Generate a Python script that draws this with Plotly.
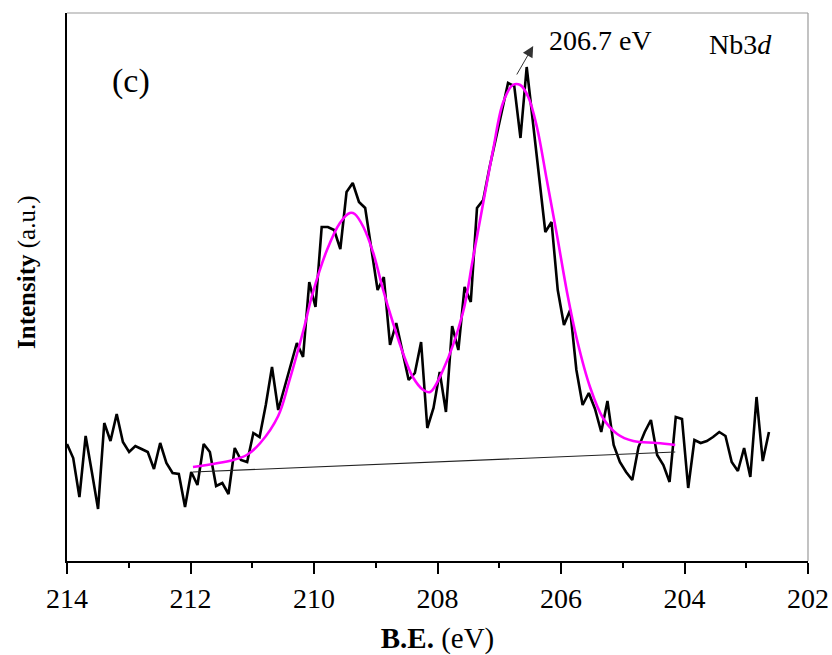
import plotly.graph_objects as go

# ---- data ----
be_start = 214.0      # first binding energy of the scan (eV)
be_step = 0.1006      # scan step (eV)
intensity = [
    117, 103, 64, 125, 89, 52, 138, 120, 147, 119,
    109, 115, 112, 109, 92, 118, 98, 88, 87, 54,
    89, 76, 117, 109, 75, 78, 67, 113, 101, 99,
    128, 124, 156, 194, 151, 173, 195, 218, 204, 279,
    254, 334, 334, 331, 312, 369, 378, 359, 353, 314,
    271, 284, 216, 238, 210, 181, 188, 219, 133, 153,
    189, 149, 235, 211, 274, 259, 353, 361, 393, 421,
    451, 478, 475, 423, 494, 437, 380, 329, 339, 271,
    236, 251, 191, 156, 168, 152, 129, 160, 116, 99,
    89, 81, 114, 129, 141, 106, 96, 79, 144, 142,
    73, 121, 118, 120, 124, 129, 125, 99, 90, 113,
    84, 164, 100, 129,
]
be = [round(be_start - be_step * i, 4) for i in range(len(intensity))]

fit_be = [211.96, 211.31, 211.09, 210.87, 210.58, 210.40, 210.17, 210.02, 209.79,
          209.58, 209.42, 209.34, 209.20, 209.04, 208.88, 208.72, 208.56, 208.40,
          208.23, 208.12, 207.91, 207.59, 207.43, 207.26, 207.10, 206.94, 206.78,
          206.66, 206.53, 206.39, 206.23, 206.06, 205.90, 205.74, 205.53, 205.32,
          205.09, 204.83, 204.45, 204.15]
fit_int = [94, 101, 106, 118, 145, 180, 231, 268, 311,
           338, 348, 347, 334, 308, 271, 238, 208, 184,
           171, 169, 191, 248, 301, 358, 411, 458, 476,
           476, 464, 434, 381, 324, 268, 221, 174, 143,
           127, 120, 118, 116]

bg_be = [211.96, 204.15]
bg_int = [89, 109]

peak_label = "206.7 eV"
x_ticks = [214, 212, 210, 208, 206, 204, 202]

FONT = "Liberation Serif, Times New Roman, serif"

fig = go.Figure()
fig.add_trace(go.Scatter(x=be, y=intensity, mode="lines",
                         line=dict(color="black", width=2.6), hoverinfo="skip"))
fig.add_trace(go.Scatter(x=bg_be, y=bg_int, mode="lines",
                         line=dict(color="#222222", width=1.1), hoverinfo="skip"))
fig.add_trace(go.Scatter(x=fit_be, y=fit_int, mode="lines", line_shape="spline",
                         line=dict(color="#FF00FF", width=2.6), hoverinfo="skip"))

fig.update_layout(
    width=832, height=655,
    margin=dict(l=67, r=24, t=13, b=94),
    paper_bgcolor="white", plot_bgcolor="white",
    showlegend=False,
    font=dict(family=FONT, color="black", size=28),
    xaxis=dict(
        range=[214, 202], autorange=False, automargin=False,
        tickvals=x_ticks, ticktext=[str(t) for t in x_ticks],
        ticks="outside", ticklen=11, tickwidth=2, tickcolor="black",
        minor=dict(dtick=1, ticks="outside", ticklen=5, tickwidth=2, tickcolor="black"),
        showline=True, linecolor="black", linewidth=2,
        showgrid=False, zeroline=False,
        tickfont=dict(family=FONT, size=28),
        title=dict(text="<b>B.E.</b> (eV)", font=dict(family=FONT, size=29), standoff=18),
    ),
    yaxis=dict(
        range=[0, 548], autorange=False, automargin=False,
        showticklabels=False, ticks="",
        showline=True, linecolor="black", linewidth=2,
        showgrid=False, zeroline=False,
    ),
    shapes=[
        dict(type="line", xref="paper", yref="paper", x0=0, x1=1, y0=1, y1=1,
             line=dict(color="#9a9a9a", width=1.2)),
        dict(type="line", xref="paper", yref="paper", x0=1, x1=1, y0=0, y1=1,
             line=dict(color="#9a9a9a", width=1.2)),
    ],
    annotations=[
        dict(x=-0.054, y=289, xref="paper", yref="y", text="<b>Intensity</b> (a.u.)",
             textangle=-90, showarrow=False, xanchor="center", yanchor="middle",
             font=dict(family=FONT, size=25)),
        dict(x=206.45, y=515, ax=206.73, ay=485, xref="x", yref="y", axref="x", ayref="y",
             showarrow=True, arrowhead=2, arrowsize=2.2, arrowwidth=1, arrowcolor="#333333",
             text=""),
        dict(x=206.23, y=521, xref="x", yref="y", text=peak_label, showarrow=False,
             xanchor="left", yanchor="middle", font=dict(family=FONT, size=28)),
        dict(x=203.63, y=517, xref="x", yref="y", text="Nb3<i>d</i>", showarrow=False,
             xanchor="left", yanchor="middle", font=dict(family=FONT, size=28)),
        dict(x=212.96, y=480, xref="x", yref="y", text="(c)", showarrow=False,
             xanchor="center", yanchor="middle", font=dict(family=FONT, size=34)),
    ],
)

fig.write_html("out.html")
